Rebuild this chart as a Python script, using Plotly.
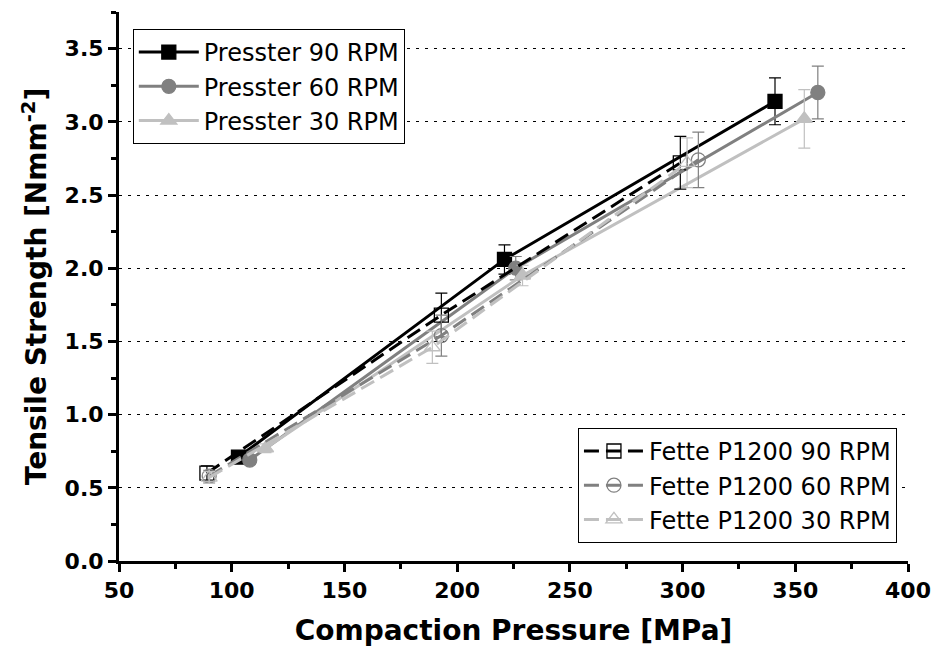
import plotly.graph_objects as go

# ---- data ----
pressster_90_x = [103, 221, 341]
pressster_90_y = [0.71, 2.06, 3.14]
pressster_90_err = [0.03, 0.10, 0.16]

pressster_60_x = [108, 226, 360]
pressster_60_y = [0.69, 2.00, 3.20]
pressster_60_err = [0.03, 0.08, 0.18]

pressster_30_x = [115, 229, 354]
pressster_30_y = [0.77, 1.95, 3.02]
pressster_30_err = [0.03, 0.07, 0.20]

fette_90_x = [89, 193, 299]
fette_90_y = [0.60, 1.68, 2.72]
fette_90_err = [0.05, 0.15, 0.18]

fette_60_x = [90, 193, 307]
fette_60_y = [0.58, 1.54, 2.74]
fette_60_err = [0.04, 0.14, 0.19]

fette_30_x = [90, 189, 302]
fette_30_y = [0.57, 1.46, 2.72]
fette_30_err = [0.04, 0.11, 0.17]

BLACK = "#000000"
GRAY = "#808080"
LIGHT = "#c0c0c0"
FONT = "DejaVu Sans"

fig = go.Figure()

def add(name, x, y, err, color, symbol, dash, legend):
    fig.add_trace(go.Scatter(
        x=x, y=y, name=name, mode="lines+markers",
        line=dict(color=color, width=3, dash=dash),
        marker=dict(symbol=symbol, size=14, color=color,
                    line=dict(color=color, width=1.3)),
        error_y=dict(type="data", array=err, color=color, thickness=1.2, width=6),
        legend=legend,
    ))

add("Presster 90 RPM", pressster_90_x, pressster_90_y, pressster_90_err, BLACK, "square", "solid", "legend")
add("Presster 60 RPM", pressster_60_x, pressster_60_y, pressster_60_err, GRAY, "circle", "solid", "legend")
add("Presster 30 RPM", pressster_30_x, pressster_30_y, pressster_30_err, LIGHT, "triangle-up", "solid", "legend")
add("Fette P1200 90 RPM", fette_90_x, fette_90_y, fette_90_err, BLACK, "square-open", "15px,7px", "legend2")
add("Fette P1200 60 RPM", fette_60_x, fette_60_y, fette_60_err, GRAY, "circle-open", "15px,7px", "legend2")
add("Fette P1200 30 RPM", fette_30_x, fette_30_y, fette_30_err, LIGHT, "triangle-up-open", "15px,7px", "legend2")

axis_common = dict(
    showline=True, linecolor="black", linewidth=3,
    ticks="outside", ticklen=8, tickwidth=3, tickcolor="black",
    tickfont=dict(family=FONT, size=22, color="black", weight="bold"),
    zeroline=False,
)

fig.update_xaxes(
    range=[50, 400], dtick=50, tick0=50, showgrid=False,
    minor=dict(dtick=25, ticklen=5, tickwidth=3, tickcolor="black", ticks="outside", showgrid=False),
    title=dict(text="Compaction Pressure [MPa]", font=dict(family=FONT, size=28, color="black", weight="bold"), standoff=18),
    **axis_common,
)
fig.update_yaxes(
    range=[0, 3.75], dtick=0.5, tick0=0, tickformat=".1f",
    showgrid=True, gridcolor="black", gridwidth=1, griddash="3px,6px",
    minor=dict(dtick=0.25, ticklen=5, tickwidth=3, tickcolor="black", ticks="outside", showgrid=False),
    title=dict(text="Tensile Strength [Nmm<sup>-2</sup>]", font=dict(family=FONT, size=28, color="black", weight="bold"), standoff=10),
    **axis_common,
)

legend_common = dict(
    bgcolor="white", bordercolor="black", borderwidth=1,
    font=dict(family=FONT, size=24, color="black"),
    itemwidth=60,
)

fig.update_layout(
    width=943, height=654,
    margin=dict(l=119, r=23, t=12, b=93),
    paper_bgcolor="white", plot_bgcolor="white",
    legend=dict(x=0.0175, y=0.969, xanchor="left", yanchor="top", **legend_common),
    legend2=dict(x=0.986, y=0.033, xanchor="right", yanchor="bottom", **legend_common),
)

fig.write_html("out.html")
